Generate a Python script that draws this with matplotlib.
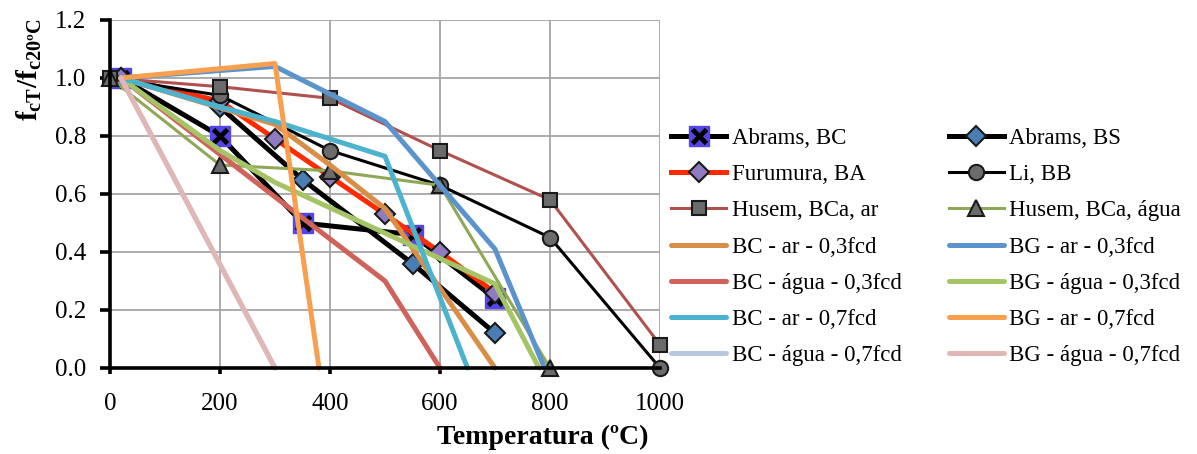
import matplotlib
matplotlib.use("Agg")
import matplotlib.pyplot as plt

# ---------------------------------------------------------------------------
# Data
# ---------------------------------------------------------------------------
abrams_bc_t = [20, 200, 350, 550, 700]
abrams_bc_f = [1.0, 0.80, 0.50, 0.46, 0.24]

abrams_bs_t = [20, 200, 350, 550, 700]
abrams_bs_f = [1.0, 0.90, 0.65, 0.36, 0.12]

furumura_t = [20, 200, 300, 400, 500, 600, 700]
furumura_f = [1.0, 0.92, 0.79, 0.66, 0.53, 0.40, 0.26]

li_t = [0, 200, 400, 600, 800, 1000]
li_f = [1.0, 0.94, 0.75, 0.63, 0.45, 0.0]

husem_ar_t = [0, 200, 400, 600, 800, 1000]
husem_ar_f = [1.0, 0.97, 0.93, 0.75, 0.58, 0.08]

husem_agua_t = [0, 200, 400, 600, 800]
husem_agua_f = [1.0, 0.70, 0.68, 0.63, 0.0]

bc_ar_03_t = [20, 300, 400, 500, 700]
bc_ar_03_f = [1.0, 0.84, 0.70, 0.55, 0.0]

bg_ar_03_t = [20, 300, 500, 700, 790]
bg_ar_03_f = [1.0, 1.04, 0.85, 0.41, 0.0]

bc_agua_03_t = [20, 300, 500, 600]
bc_agua_03_f = [1.0, 0.59, 0.30, 0.0]

bg_agua_03_t = [20, 200, 300, 700, 780]
bg_agua_03_f = [1.0, 0.75, 0.64, 0.29, 0.0]

bc_ar_07_t = [20, 200, 300, 400, 500, 650]
bc_ar_07_f = [1.0, 0.90, 0.85, 0.79, 0.73, 0.0]

bg_ar_07_t = [20, 300, 380]
bg_ar_07_f = [1.0, 1.05, 0.0]

bc_agua_07_t = [20, 300]
bc_agua_07_f = [1.0, 0.0]

bg_agua_07_t = [20, 300]
bg_agua_07_f = [1.0, 0.0]

x_ticks = [0, 200, 400, 600, 800, 1000]
y_ticks = [0.0, 0.2, 0.4, 0.6, 0.8, 1.0, 1.2]

# ---------------------------------------------------------------------------
# Style
# ---------------------------------------------------------------------------
plt.rcParams["font.family"] = ["Liberation Serif", "DejaVu Serif"]
plt.rcParams["mathtext.fontset"] = "custom"
plt.rcParams["mathtext.rm"] = "Liberation Serif"
plt.rcParams["mathtext.it"] = "Liberation Serif:italic"
plt.rcParams["mathtext.bf"] = "Liberation Serif:bold"

W, H = 1197, 454
fig = plt.figure(figsize=(W / 100, H / 100), dpi=100)
ax = fig.add_axes([110 / W, 1 - 368 / H, 550 / W, 348 / H])

THICK = 3.6
THIN = 2.2
GRAY_MK = "#6b6b6b"

handles = []

# experimental series
l1 = ax.plot(abrams_bc_t, abrams_bc_f, color="black", lw=THICK, marker="s", ms=14,
             mfc="#5544e6", mec="#5544e6", clip_on=False)[0]
l1x = ax.plot(abrams_bc_t, abrams_bc_f, ls="none", marker="x", ms=10, mew=3.4,
              color="black", clip_on=False)[0]
handles.append(((l1, l1x), "Abrams, BC"))

l2 = ax.plot(abrams_bs_t, abrams_bs_f, color="black", lw=THICK, marker="D", ms=10,
             mfc="#4a7db3", mec="#1a1a1a", mew=1.5, clip_on=False)[0]
handles.append((l2, "Abrams, BS"))

l3 = ax.plot(furumura_t, furumura_f, color="#ff2a00", lw=THICK, marker="D", ms=10,
             mfc="#8f7cc0", mec="#1a1a1a", mew=1.5, clip_on=False)[0]
handles.append((l3, "Furumura, BA"))

l4 = ax.plot(li_t, li_f, color="black", lw=THIN, marker="o", ms=11,
             mfc=GRAY_MK, mec="#1a1a1a", mew=1.5, clip_on=False)[0]
handles.append((l4, "Li, BB"))

l5 = ax.plot(husem_ar_t, husem_ar_f, color="#b0514e", lw=THIN, marker="s", ms=10,
             mfc=GRAY_MK, mec="#1a1a1a", mew=1.5, clip_on=False)[0]
handles.append((l5, "Husem, BCa, ar"))

l6 = ax.plot(husem_agua_t, husem_agua_f, color="#8fa856", lw=THIN, marker="^", ms=11,
             mfc=GRAY_MK, mec="#1a1a1a", mew=1.5, clip_on=False)[0]
handles.append((l6, "Husem, BCa, água"))

# simulation series
sims = [
    (bc_ar_03_t, bc_ar_03_f, "#d98e47", "BC - ar - 0,3fcd"),
    (bg_ar_03_t, bg_ar_03_f, "#5b94cd", "BG - ar - 0,3fcd"),
    (bc_agua_03_t, bc_agua_03_f, "#cf625a", "BC - água - 0,3fcd"),
    (bg_agua_03_t, bg_agua_03_f, "#a5c466", "BG - água - 0,3fcd"),
    (bc_ar_07_t, bc_ar_07_f, "#4cb3cf", "BC - ar - 0,7fcd"),
    (bg_ar_07_t, bg_ar_07_f, "#f8a04f", "BG - ar - 0,7fcd"),
    (bc_agua_07_t, bc_agua_07_f, "#b8c7e0", "BC - água - 0,7fcd"),
    (bg_agua_07_t, bg_agua_07_f, "#e1b7b6", "BG - água - 0,7fcd"),
]
for t, f, c, lab in sims:
    ln = ax.plot(t, f, color=c, lw=THICK, solid_capstyle="round", clip_on=False)[0]
    handles.append((ln, lab))

# axes
ax.set_xlim(0, 1000)
ax.set_ylim(0, 1.2)
ax.set_xticks(x_ticks)
ax.set_yticks(y_ticks)
ax.set_yticklabels([f"{v:.1f}" for v in y_ticks])
ax.grid(True, color="#a6a6a6", lw=1.3)
ax.set_axisbelow(True)
for s in ["top", "right"]:
    ax.spines[s].set_visible(False)
for s in ["left", "bottom"]:
    ax.spines[s].set_linewidth(2.6)
    ax.spines[s].set_zorder(2.5)
ax.tick_params(axis="y", direction="out", length=7, width=2.6, pad=10, labelsize=18)
ax.tick_params(axis="x", direction="out", length=4, width=2.6, pad=14, labelsize=18)

fig.text(29 / W, 1 - 70 / H, r"$\mathbf{f_{cT}/f_{c20ºC}}$", rotation=90,
         ha="center", va="center", fontsize=21)
fig.text(543 / W, 1 - 437 / H, "Temperatura (ºC)", fontweight="bold",
         ha="center", va="center", fontsize=20)

# Excel fills the two legend columns row by row; matplotlib fills column by column
order = list(range(0, len(handles), 2)) + list(range(1, len(handles), 2))
fig.legend([handles[i][0] for i in order], [handles[i][1] for i in order], ncol=2,
           loc="upper left", bbox_to_anchor=(671 / W, 1 - 128 / H),
           frameon=False, fontsize=16.5, handlelength=2.4, handletextpad=0.25,
           columnspacing=2.05, labelspacing=0.66, borderpad=0, borderaxespad=0)

fig.savefig("out.png", dpi=100)
